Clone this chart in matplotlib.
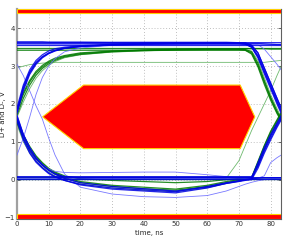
import matplotlib
matplotlib.use("Agg")
import matplotlib.pyplot as plt
from matplotlib.patches import Polygon, Rectangle

# ---------------- data ----------------
t = [0, 2, 4, 6, 8, 10, 12, 15, 20, 30, 40, 50, 60, 66, 70, 72, 74, 76, 78, 80, 82, 83.33]

# dark blue traces
blue_rise_fall_1 = [1.82, 2.45, 2.85, 3.10, 3.25, 3.35, 3.42, 3.48, 3.52, 3.56, 3.58, 3.59, 3.59, 3.59, 3.59, 3.58, 3.50, 3.22, 2.80, 2.40, 2.00, 1.75]
blue_rise_fall_2 = [1.75, 2.35, 2.78, 3.05, 3.22, 3.33, 3.40, 3.47, 3.52, 3.57, 3.60, 3.60, 3.60, 3.60, 3.60, 3.59, 3.52, 3.28, 2.88, 2.48, 2.08, 1.82]
blue_rise_fall_3 = [1.90, 2.50, 2.90, 3.15, 3.30, 3.40, 3.46, 3.50, 3.54, 3.58, 3.60, 3.61, 3.61, 3.61, 3.60, 3.60, 3.55, 3.35, 2.95, 2.55, 2.15, 1.88]
blue_rise_stay = [1.80, 2.40, 2.82, 3.08, 3.24, 3.34, 3.41, 3.47, 3.52, 3.56, 3.58, 3.59, 3.60, 3.60, 3.60, 3.60, 3.60, 3.60, 3.59, 3.58, 3.57, 3.57]
blue_high_fall_1 = [3.60, 3.60, 3.60, 3.60, 3.60, 3.60, 3.60, 3.60, 3.60, 3.60, 3.60, 3.60, 3.60, 3.60, 3.60, 3.59, 3.50, 3.25, 2.85, 2.45, 2.05, 1.80]
blue_high_fall_2 = [3.63, 3.63, 3.63, 3.63, 3.63, 3.63, 3.63, 3.63, 3.63, 3.63, 3.63, 3.63, 3.63, 3.63, 3.62, 3.62, 3.55, 3.35, 2.95, 2.55, 2.15, 1.90]
blue_high_stay_1 = [3.56, 3.56, 3.56, 3.56, 3.56, 3.56, 3.56, 3.56, 3.56, 3.56, 3.56, 3.56, 3.56, 3.56, 3.56, 3.56, 3.56, 3.56, 3.56, 3.56, 3.56, 3.56]
blue_high_stay_2 = [3.64, 3.64, 3.64, 3.64, 3.64, 3.63, 3.63, 3.63, 3.63, 3.62, 3.62, 3.62, 3.62, 3.62, 3.62, 3.62, 3.62, 3.62, 3.62, 3.62, 3.62, 3.62]
blue_fall_rise_1 = [1.60, 1.10, 0.75, 0.50, 0.32, 0.18, 0.08, -0.02, -0.12, -0.22, -0.27, -0.32, -0.18, -0.08, -0.03, -0.01, 0.02, 0.40, 0.80, 1.15, 1.45, 1.65]
blue_fall_rise_2 = [1.65, 1.18, 0.82, 0.56, 0.38, 0.24, 0.14, 0.03, -0.08, -0.18, -0.24, -0.30, -0.20, -0.10, -0.05, -0.02, 0.00, 0.30, 0.70, 1.05, 1.38, 1.58]
blue_fall_low_1 = [1.55, 1.05, 0.70, 0.46, 0.30, 0.16, 0.07, -0.02, -0.14, -0.25, -0.30, -0.35, -0.22, -0.10, -0.04, 0.00, 0.02, 0.04, 0.05, 0.05, 0.05, 0.05]
blue_fall_low_2 = [1.70, 1.20, 0.85, 0.58, 0.40, 0.26, 0.16, 0.08, 0.05, 0.05, 0.05, 0.05, 0.05, 0.05, 0.05, 0.05, 0.05, 0.05, 0.05, 0.05, 0.05, 0.05]
blue_low_rise_1 = [0.05, 0.05, 0.05, 0.05, 0.05, 0.05, 0.05, 0.05, 0.05, 0.05, 0.05, 0.05, 0.05, 0.05, 0.05, 0.05, 0.05, 0.45, 0.85, 1.20, 1.50, 1.70]
blue_low_rise_2 = [0.08, 0.08, 0.08, 0.08, 0.08, 0.08, 0.08, 0.08, 0.08, 0.08, 0.08, 0.08, 0.08, 0.08, 0.08, 0.08, 0.08, 0.35, 0.75, 1.10, 1.42, 1.62]
blue_low_stay = [0.02, 0.02, 0.02, 0.02, 0.02, 0.02, 0.02, 0.02, 0.02, 0.02, 0.02, 0.02, 0.02, 0.02, 0.02, 0.02, 0.02, 0.02, 0.02, 0.02, 0.02, 0.02]

# light blue (thin) traces
lblue_late_fall = [3.05, 2.75, 2.35, 1.95, 1.60, 1.10, 0.65, 0.15, -0.20, -0.38, -0.45, -0.47, -0.42, -0.30, -0.18, -0.12, -0.07, -0.03, 0.00, 0.02, 0.04, 0.05]
lblue_late_rise = [0.65, 1.10, 1.65, 2.25, 2.70, 3.00, 3.20, 3.38, 3.48, 3.55, 3.57, 3.58, 3.58, 3.58, 3.58, 3.58, 3.58, 3.58, 3.57, 3.57, 3.57, 3.57]
lblue_hump = [1.70, 1.20, 0.85, 0.58, 0.40, 0.28, 0.22, 0.19, 0.18, 0.19, 0.20, 0.20, 0.13, 0.08, 0.05, 0.04, 0.04, 0.04, 0.05, 0.05, 0.05, 0.05]
lblue_right_fall = [3.57, 3.57, 3.57, 3.57, 3.57, 3.57, 3.57, 3.57, 3.57, 3.57, 3.57, 3.57, 3.57, 3.57, 3.57, 3.57, 3.57, 3.57, 3.45, 3.25, 3.05, 2.90]
lblue_right_rise = [0.04, 0.04, 0.04, 0.04, 0.04, 0.04, 0.04, 0.04, 0.04, 0.04, 0.04, 0.04, 0.04, 0.04, 0.04, 0.04, 0.04, 0.04, 0.10, 0.45, 0.58, 0.65]

# dark green traces
green_rise_fall_1 = [1.80, 2.25, 2.58, 2.82, 2.98, 3.10, 3.18, 3.26, 3.33, 3.39, 3.42, 3.44, 3.45, 3.45, 3.45, 3.44, 3.38, 3.08, 2.62, 2.18, 1.82, 1.60]
green_rise_fall_2 = [1.70, 2.15, 2.50, 2.76, 2.94, 3.06, 3.15, 3.24, 3.31, 3.38, 3.41, 3.43, 3.44, 3.44, 3.44, 3.42, 3.32, 2.98, 2.52, 2.10, 1.75, 1.55]
green_rise_stay = [1.85, 2.30, 2.62, 2.86, 3.02, 3.13, 3.21, 3.28, 3.35, 3.40, 3.43, 3.45, 3.46, 3.46, 3.46, 3.46, 3.46, 3.46, 3.46, 3.45, 3.45, 3.45]
green_high_fall = [3.42, 3.42, 3.42, 3.42, 3.42, 3.42, 3.42, 3.42, 3.42, 3.42, 3.42, 3.42, 3.42, 3.42, 3.42, 3.42, 3.35, 3.02, 2.58, 2.15, 1.78, 1.58]
green_high_stay = [3.47, 3.47, 3.47, 3.47, 3.47, 3.47, 3.47, 3.47, 3.47, 3.47, 3.47, 3.47, 3.47, 3.47, 3.47, 3.47, 3.47, 3.47, 3.47, 3.47, 3.47, 3.47]
green_fall_rise_1 = [1.55, 1.15, 0.84, 0.60, 0.42, 0.28, 0.18, 0.06, -0.05, -0.15, -0.20, -0.25, -0.15, -0.05, 0.00, 0.02, 0.04, 0.45, 0.88, 1.25, 1.55, 1.75]
green_fall_rise_2 = [1.50, 1.08, 0.78, 0.55, 0.38, 0.25, 0.15, 0.04, -0.08, -0.18, -0.24, -0.28, -0.18, -0.08, -0.02, 0.01, 0.03, 0.38, 0.80, 1.18, 1.50, 1.70]
green_fall_low = [1.60, 1.18, 0.88, 0.63, 0.45, 0.30, 0.20, 0.10, 0.02, -0.02, -0.05, -0.08, -0.05, 0.00, 0.03, 0.04, 0.05, 0.05, 0.05, 0.05, 0.05, 0.05]
green_low_rise = [0.06, 0.06, 0.06, 0.06, 0.06, 0.06, 0.06, 0.06, 0.06, 0.06, 0.06, 0.06, 0.06, 0.06, 0.06, 0.06, 0.06, 0.48, 0.90, 1.28, 1.58, 1.78]
green_low_stay = [0.03, 0.03, 0.03, 0.03, 0.03, 0.03, 0.03, 0.03, 0.03, 0.03, 0.03, 0.03, 0.03, 0.03, 0.03, 0.03, 0.03, 0.03, 0.03, 0.03, 0.03, 0.03]

# light green (thin) traces
lgreen_mid_high = [2.95, 3.00, 3.04, 3.06, 3.08, 3.09, 3.10, 3.10, 3.10, 3.10, 3.10, 3.10, 3.10, 3.10, 3.10, 3.10, 3.10, 3.10, 3.10, 3.12, 3.14, 3.15]
lgreen_early_rise = [0.05, 0.05, 0.05, 0.05, 0.05, 0.05, 0.05, 0.05, 0.05, 0.05, 0.05, 0.05, 0.05, 0.04, 0.50, 0.90, 1.30, 1.65, 2.00, 2.35, 2.75, 3.00]
lgreen_fall_deep = [1.45, 1.00, 0.70, 0.48, 0.33, 0.20, 0.10, -0.02, -0.12, -0.22, -0.28, -0.32, -0.22, -0.10, -0.04, 0.00, 0.02, 0.05, 0.05, 0.05, 0.05, 0.05]
lgreen_slow_rise = [1.65, 2.05, 2.40, 2.68, 2.88, 3.02, 3.12, 3.22, 3.30, 3.37, 3.40, 3.42, 3.43, 3.43, 3.43, 3.43, 3.40, 3.15, 2.70, 2.25, 1.88, 1.65]

# eye mask
mask_x = [8.1, 21.0, 70.4, 75.0, 70.4, 21.0]
mask_y = [1.66, 2.50, 2.50, 1.66, 0.82, 0.82]
top_limit = 4.40
bottom_limit = -0.92

x_ticks = [0, 10, 20, 30, 40, 50, 60, 70, 80]
y_ticks = [-1, 0, 1, 2, 3, 4]
x_range = (0, 83.33)
y_range = (-1.04, 4.51)

blue_traces = [blue_rise_fall_1, blue_rise_fall_2, blue_rise_fall_3, blue_rise_stay,
               blue_high_fall_1, blue_high_fall_2, blue_high_stay_1, blue_high_stay_2,
               blue_fall_rise_1, blue_fall_rise_2, blue_fall_low_1, blue_fall_low_2,
               blue_low_rise_1, blue_low_rise_2, blue_low_stay]
lblue_traces = [lblue_late_fall, lblue_late_rise, lblue_hump, lblue_right_fall, lblue_right_rise]
green_traces = [green_rise_fall_1, green_rise_fall_2, green_rise_stay, green_high_fall,
                green_high_stay, green_fall_rise_1, green_fall_rise_2, green_fall_low,
                green_low_rise, green_low_stay]
lgreen_traces = [lgreen_mid_high, lgreen_early_rise, lgreen_fall_deep, lgreen_slow_rise]

# ---------------- plot ----------------
fig = plt.figure(figsize=(2.89, 2.40), dpi=100)
ax = fig.add_axes([0.0588, 0.0875, 0.9142, 0.875])

for y in lgreen_traces:
    ax.plot(t, y, color="#4aa84a", lw=0.6, alpha=0.8, zorder=2)
for y in green_traces:
    ax.plot(t, y, color="#007a00", lw=0.9, alpha=0.85, zorder=3)
for y in lblue_traces:
    ax.plot(t, y, color="#6a6aff", lw=0.6, alpha=0.9, zorder=4)
for y in blue_traces:
    ax.plot(t, y, color="#0000e6", lw=0.9, alpha=0.85, zorder=5)

ax.add_patch(Polygon(list(zip(mask_x, mask_y)), closed=True, facecolor="#ff0000",
                     edgecolor="#ffd000", lw=0.8, zorder=6))
ax.add_patch(Rectangle((x_range[0], top_limit), x_range[1] - x_range[0], y_range[1] - top_limit,
                       facecolor="#ff0000", edgecolor="#ffd000", lw=0.8, zorder=6))
ax.add_patch(Rectangle((x_range[0], y_range[0]), x_range[1] - x_range[0], bottom_limit - y_range[0],
                       facecolor="#ff0000", edgecolor="#ffd000", lw=0.8, zorder=6))

ax.set_xlim(*x_range)
ax.set_ylim(*y_range)
ax.set_xticks(x_ticks)
ax.set_yticks(y_ticks)
ax.tick_params(direction="in", length=2.5, width=0.5, labelsize=5, pad=1.5,
               top=True, right=True, colors="#333333")
ax.grid(True, linestyle=(0, (1, 2.5)), color="#aaaaaa", lw=0.6)
ax.set_axisbelow(True)

for side in ["top", "right", "bottom"]:
    ax.spines[side].set_color("#606060")
    ax.spines[side].set_linewidth(0.8)
ax.spines["left"].set_color("#a0a0a0")
ax.spines["left"].set_linewidth(1.6)

ax.set_xlabel("time, ns", fontsize=5, labelpad=2, color="#222222")
ax.set_ylabel("D+ and D-, V", fontsize=5, color="#222222")
ax.yaxis.set_label_coords(-0.040, 0.5)

fig.savefig("out.png", dpi=100)
